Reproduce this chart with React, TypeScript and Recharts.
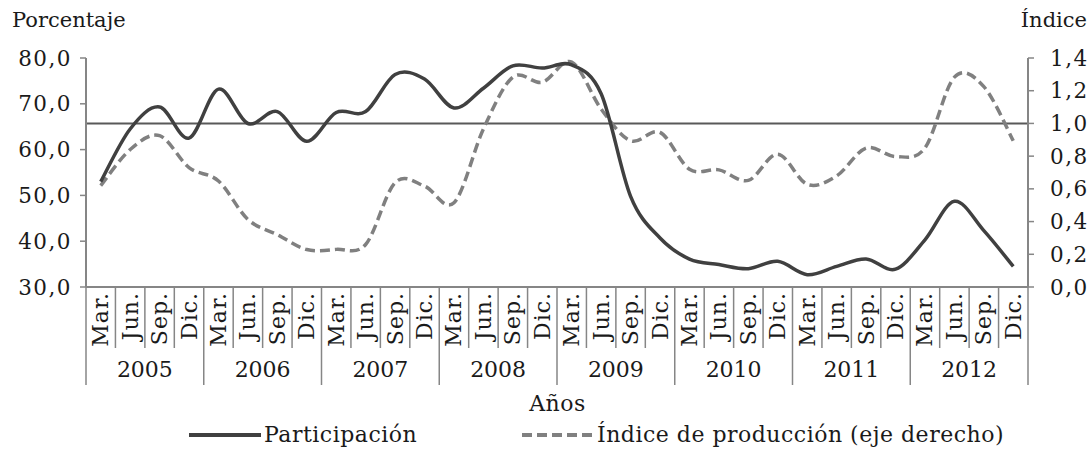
import React from 'react';
import { LineChart, Line, XAxis, YAxis, ReferenceLine } from 'recharts';

const months = ['Mar.', 'Jun.', 'Sep.', 'Dic.'];
const years = ['2005', '2006', '2007', '2008', '2009', '2010', '2011', '2012'];

// Participación (%), eje izquierdo
const participacion = [
  53.0, 64.5, 69.3, 62.5, 73.2, 65.7, 68.3, 61.8,
  68.1, 68.3, 76.4, 75.4, 69.1, 73.4, 78.3, 77.8,
  78.5, 72.2, 49.8, 40.7, 36.1, 34.9, 34.0, 35.6,
  32.7, 34.5, 36.1, 33.9, 40.3, 48.7, 42.3, 34.5,
];

// Índice de producción, eje derecho
const indice = [
  0.62, 0.84, 0.925, 0.73, 0.648, 0.413, 0.32, 0.229,
  0.23, 0.26, 0.638, 0.617, 0.515, 0.966, 1.283, 1.252,
  1.375, 1.088, 0.894, 0.945, 0.72, 0.716, 0.652, 0.812,
  0.628, 0.679, 0.849, 0.798, 0.85, 1.283, 1.225, 0.894,
];

const leftTicks = [30, 40, 50, 60, 70, 80];
const rightTicks = [0, 0.2, 0.4, 0.6, 0.8, 1.0, 1.2, 1.4];

const data = participacion.map((p, i) => ({
  periodo: `${years[Math.floor(i / 4)]}-${months[i % 4]}`,
  participacion: p,
  indice: indice[i],
}));

const W = 1091;
const H = 449;
const LEFT_W = 86;
const RIGHT_W = 63;
// half of one quarter's slot, so points sit in the middle of each category
const HALF_SLOT = (W - LEFT_W - RIGHT_W) / data.length / 2;
const AXIS = '#868686';
const INK = '#1a1a1a';
const FONT = "'DejaVu Serif', serif";

const fmt = (v: number) => v.toFixed(1).replace('.', ',');

// Excel-like smoothed line (Catmull-Rom through every point)
function smooth(context: any) {
  let pts: number[][] = [];
  return {
    areaStart() {},
    areaEnd() {},
    lineStart() {
      pts = [];
    },
    point(x: number, y: number) {
      pts.push([+x, +y]);
    },
    lineEnd() {
      if (!pts.length) return;
      context.moveTo(pts[0][0], pts[0][1]);
      for (let i = 0; i < pts.length - 1; i++) {
        const p0 = pts[i - 1] || pts[i];
        const p1 = pts[i];
        const p2 = pts[i + 1];
        const p3 = pts[i + 2] || p2;
        context.bezierCurveTo(
          p1[0] + (p2[0] - p0[0]) / 6,
          p1[1] + (p2[1] - p0[1]) / 6,
          p2[0] - (p3[0] - p1[0]) / 6,
          p2[1] - (p3[1] - p1[1]) / 6,
          p2[0],
          p2[1]
        );
      }
    },
  };
}

const PeriodTick = (props: any) => {
  const { x, y, payload, index } = props;
  const i = payload.index ?? index;
  const half = HALF_SLOT;
  const month = String(payload.value).split('-')[1];
  const last = i === data.length - 1;
  return (
    <g>
      <line x1={x - half} x2={x - half} y1={y} y2={y + (i % 4 === 0 ? 98 : 61)} stroke={AXIS} strokeWidth={1.5} />
      {last && <line x1={x + half} x2={x + half} y1={y} y2={y + 98} stroke={AXIS} strokeWidth={1.5} />}
      <text
        transform={`translate(${x + 7.5},${y + 5}) rotate(-90)`}
        textAnchor="end"
        fontSize={22}
        letterSpacing={1}
        fill={INK}
        fontFamily={FONT}
      >
        {month}
      </text>
      {i % 4 === 1 && (
        <text x={x + half} y={y + 90} textAnchor="middle" fontSize={22} fill={INK} fontFamily={FONT}>
          {years[Math.floor(i / 4)]}
        </text>
      )}
    </g>
  );
};

const LegendKey = ({ dashed }: { dashed?: boolean }) => (
  <svg width={72} height={10} style={{ display: 'block' }}>
    <line
      x1={0}
      x2={72}
      y1={5}
      y2={5}
      stroke={dashed ? '#808080' : '#404040'}
      strokeWidth={4}
      strokeDasharray={dashed ? '10 5' : undefined}
    />
  </svg>
);

const tickStyle = { fontSize: 21.5, fill: INK, fontFamily: FONT, letterSpacing: 1.5 };

export default function App() {
  return (
    <div style={{ position: 'absolute', left: 0, top: 0, width: W, height: H, background: '#fff', fontFamily: FONT, color: INK }}>
      <div style={{ position: 'absolute', left: 12, top: 8, fontSize: 21 }}>Porcentaje</div>
      <div style={{ position: 'absolute', right: 4, top: 8, fontSize: 21 }}>Índice</div>

      <LineChart width={W} height={H} data={data} margin={{ top: 58, right: 0, bottom: 0, left: 0 }}>
        <XAxis
          dataKey="periodo"
          height={162}
          interval={0}
          padding={{ left: HALF_SLOT, right: HALF_SLOT }}
          tickSize={0}
          tickMargin={0}
          tickLine={false}
          axisLine={{ stroke: AXIS, strokeWidth: 2 }}
          tick={<PeriodTick />}
        />
        <YAxis
          yAxisId="left"
          width={LEFT_W}
          domain={[30, 80]}
          ticks={leftTicks}
          tickFormatter={fmt}
          axisLine={{ stroke: AXIS, strokeWidth: 2 }}
          tickLine={{ stroke: AXIS, strokeWidth: 1.5 }}
          tickSize={6}
          tickMargin={8}
          tick={tickStyle}
        />
        <YAxis
          yAxisId="right"
          orientation="right"
          width={RIGHT_W}
          domain={[0, 1.4]}
          ticks={rightTicks}
          tickFormatter={fmt}
          axisLine={{ stroke: AXIS, strokeWidth: 2 }}
          tickLine={{ stroke: AXIS, strokeWidth: 1.5 }}
          tickSize={6}
          tickMargin={16}
          tick={tickStyle}
        />
        <ReferenceLine yAxisId="right" y={1} stroke="#595959" strokeWidth={2} />
        <Line
          yAxisId="right"
          dataKey="indice"
          type={smooth as any}
          stroke="#808080"
          strokeWidth={3.5}
          strokeDasharray="10 5"
          dot={false}
          isAnimationActive={false}
        />
        <Line
          yAxisId="left"
          dataKey="participacion"
          type={smooth as any}
          stroke="#404040"
          strokeWidth={3.5}
          dot={false}
          isAnimationActive={false}
        />
      </LineChart>

      <div style={{ position: 'absolute', left: 0, width: W, top: 391, fontSize: 22, letterSpacing: 0.5, textAlign: 'center', paddingLeft: 12 }}>
        Años
      </div>
      <div style={{ position: 'absolute', left: 189, top: 422, display: 'flex', alignItems: 'center', fontSize: 22, letterSpacing: 0.5 }}>
        <LegendKey />
        <span style={{ marginLeft: 3 }}>Participación</span>
      </div>
      <div style={{ position: 'absolute', left: 522, top: 422, display: 'flex', alignItems: 'center', fontSize: 22, letterSpacing: 0.5 }}>
        <LegendKey dashed />
        <span style={{ marginLeft: 3 }}>Índice de producción (eje derecho)</span>
      </div>
    </div>
  );
}
